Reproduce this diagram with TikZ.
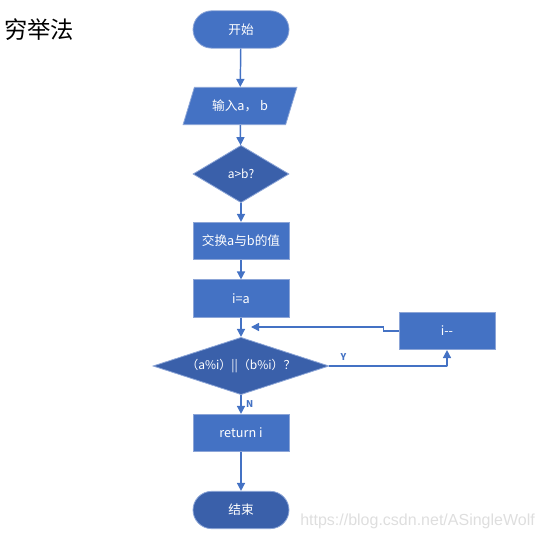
\documentclass[tikz,border=0pt]{standalone}
\usepackage{fontspec}
\setmainfont{Noto Sans CJK SC}
\newfontfamily\wmfont{Liberation Sans}
\usetikzlibrary{shapes.geometric,arrows.meta}
\definecolor{myblue}{RGB}{68,114,196}
\definecolor{mydark}{RGB}{58,96,170}
\definecolor{myedge}{RGB}{140,165,215}
\definecolor{mymark}{RGB}{222,222,222}

\begin{document}
\begin{tikzpicture}[x=0.75pt,y=-0.75pt,
    box/.style={rectangle,fill=myblue,draw=myedge,line width=0.6pt,text=white,
      minimum width=72pt,minimum height=28pt,font=\fontsize{9.5pt}{11pt}\selectfont},
    term/.style={box,rounded corners=14pt},
    iobox/.style={trapezium,trapezium left angle=69,trapezium right angle=111,
      trapezium stretches=true,fill=myblue,draw=myedge,line width=0.6pt,text=white,
      minimum width=85.5pt,minimum height=28pt,font=\fontsize{9.5pt}{11pt}\selectfont},
    ask/.style={diamond,aspect=3,inner sep=0pt,fill=mydark,draw=myedge,line width=0.6pt,
      text=white,minimum height=43pt,font=\fontsize{9pt}{11pt}\selectfont},
    line/.style={myblue,line width=1.1pt,-{Triangle[width=6pt,length=6pt]}},
    lab/.style={myblue,font=\fontsize{7pt}{8pt}\selectfont\bfseries}]
    \useasboundingbox (0,0) rectangle (543,541);

    % title
    \node (title) at (39,30) {\fontsize{17.5pt}{20pt}\selectfont 穷举法};

    % main column
    \node[term] (start) at (241,29.5) {开始};
    \node[iobox] (input) at (240,106) {输入a， b};
    \node[ask,minimum width=72pt] (cmp) at (241,174) {a>b?};
    \node[box] (swap) at (241,241) {交换a与b的值};
    \node[box] (init) at (241,298.5) {i=a};
    \node[ask,minimum width=132pt] (test) at (241,366) {（a\%i）||（b\%i）？};
    \node[box] (dec) at (447,331) {i{-}{-}};
    \node[box] (ret) at (241,433) {return i};
    \node[term,fill=mydark] (stop) at (241,510) {结束};
    \coordinate (back) at (251,327);

    % arrows
    \draw[line] (start) -- (input);
    \draw[line] (input) -- (cmp);
    \draw[line] (cmp) -- (swap);
    \draw[line] (swap) -- (init);
    \draw[line] (init) -- (test);
    \draw[line] (test.east) -- node[lab,pos=0.12,above] {Y} ++(118,0) -| (dec.south);
    \draw[line] (dec.west) -- ++(-15,0) |- (back);
    \draw[line] (test) -- node[lab,right] {N} (ret);
    \draw[line] (ret) -- (stop);

    % watermark
    \node[anchor=west,text=mymark,inner sep=0pt] (mark) at (300,521)
      {\wmfont\fontsize{12pt}{14pt}\selectfont https://blog.csdn.net/ASingleWolf};
\end{tikzpicture}
\end{document}
